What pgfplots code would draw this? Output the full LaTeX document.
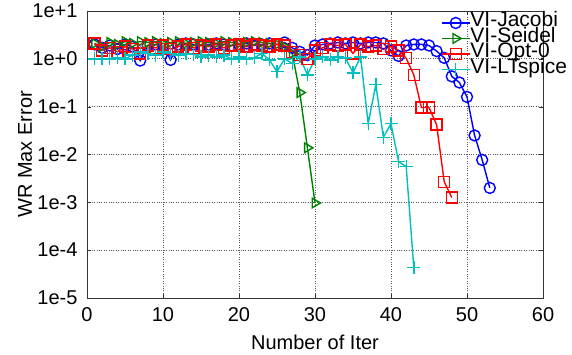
\documentclass[border=0pt]{standalone}
\usepackage{pgfplots}
\pgfplotsset{compat=1.18}
\usepackage{fontspec}
\setmainfont{Liberation Sans}
\definecolor{cjac}{RGB}{0,0,255}
\definecolor{csei}{RGB}{0,128,0}
\definecolor{copt}{RGB}{255,0,0}
\definecolor{clts}{RGB}{0,191,191}
\begin{document}
\begin{tikzpicture}
\begin{axis}[
  scale only axis,
  width=456pt, height=287pt,
  ymode=log,
  xmin=0, xmax=60, ymin=1e-5, ymax=10,
  xtick={0,10,...,60},
  ytick={1e-5,1e-4,1e-3,1e-2,1e-1,1,10},
  yticklabels={1e-5,1e-4,1e-3,1e-2,1e-1,1e+0,1e+1},
  minor ytick={},
  log basis y=10,
  /pgf/number format/assume math mode=true,
  tick label style={font=\fontsize{20}{22}\selectfont},
  label style={font=\fontsize{20}{22}\selectfont},
  xlabel={Number of Iter},
  ylabel={WR Max Error},
  xlabel style={at={(rel axis cs:0.5,0)}, anchor=center, yshift=-44pt},
  ylabel style={at={(rel axis cs:0,0.5)}, anchor=center, yshift=62pt},
  yticklabel style={xshift=-6pt},
  xticklabel style={yshift=-6pt},
  grid=major,
  major grid style={dotted, gray!70!black, line width=0.9pt},
  axis line style={gray!40!black, line width=0.8pt},
  tick align=inside,
  major tick length=4pt,
  tick style={gray!40!black},
  every axis plot/.append style={line width=1.4pt},
  clip=false,
  legend cell align=left,
  legend image code/.code={\draw[mark repeat=2,mark phase=2,#1] plot coordinates {(0pt,0pt) (14pt,0pt) (28pt,0pt)};},
  legend style={draw=none, fill=none, at={(rel axis cs:0.776,0.986)}, anchor=north west,
     font=\fontsize{21}{15}\selectfont, inner sep=0pt, row sep=0pt,
     nodes={inner sep=0pt, text height=11.5pt, text depth=4pt}},
]
\addplot[color=cjac, mark=o, mark size=5.5pt] coordinates {
(1,2.0)(2,1.7)(3,1.9)(4,1.6)(5,2.0)(6,1.8)(7,0.92)(8,1.9)(9,2.0)(10,1.9)
(11,0.95)(12,2.0)(13,2.1)(14,2.0)(15,1.9)(16,2.0)(17,2.1)(18,2.0)(19,1.9)(20,2.0)
(21,2.1)(22,1.9)(23,2.0)(24,2.1)(25,2.0)(26,2.2)(27,1.7)(28,1.4)(29,1.2)(30,1.9)
(31,2.0)(32,2.1)(33,2.2)(34,2.1)(35,2.2)(36,2.1)(37,2.2)(38,2.2)(39,2.1)(40,1.5)
(41,1.15)(42,1.9)(43,2.0)(44,2.0)(45,1.9)(46,1.45)(47,1.05)(48,0.43)(49,0.32)(50,0.16)
(51,0.025)(52,0.0077)(53,0.002)};
\addlegendentry{VI-Jacobi}
\addplot[color=csei, mark=triangle, mark size=5.5pt, mark options={rotate=-90}] coordinates {
(1,2.1)(2,1.8)(3,2.2)(4,2.0)(5,2.3)(6,2.1)(7,2.3)(8,2.2)(9,2.3)(10,2.1)
(11,2.2)(12,2.3)(13,2.1)(14,2.2)(15,2.3)(16,2.2)(17,2.1)(18,2.3)(19,2.2)(20,2.1)
(21,2.2)(22,2.3)(23,2.2)(24,2.1)(25,2.0)(26,1.8)(27,1.3)(28,0.197)(29,0.0138)(30,0.00097)};
\addlegendentry{VI-Seidel}
\addplot[color=copt, mark=square, mark size=5.5pt] coordinates {
(1,2.1)(2,1.5)(3,1.7)(4,1.4)(5,1.8)(6,1.6)(7,1.3)(8,1.9)(9,1.7)(10,1.9)
(11,1.6)(12,1.8)(13,2.0)(14,1.7)(15,1.9)(16,1.8)(17,2.0)(18,1.7)(19,1.9)(20,2.0)
(21,1.8)(22,2.0)(23,1.9)(24,1.8)(25,2.0)(26,1.9)(27,1.4)(28,1.2)(29,1.0)(30,1.5)
(31,1.7)(32,2.0)(33,1.9)(34,2.0)(35,1.3)(36,2.0)(37,1.8)(38,1.9)(39,1.6)(40,1.8)
(41,1.5)(42,1.03)(43,0.46)(44,0.096)(45,0.096)(46,0.042)(47,0.0027)(48,0.00126)};
\addlegendentry{VI-Opt-0}
\addplot[color=clts, mark=+, mark size=6.5pt] coordinates {
(1,1.0)(2,1.0)(3,1.0)(4,1.05)(5,1.0)(6,1.2)(7,1.4)(8,1.3)(9,1.2)(10,1.4)
(11,1.3)(12,1.2)(13,1.3)(14,1.25)(15,1.1)(16,1.2)(17,1.1)(18,1.2)(19,1.0)(20,1.1)
(21,1.0)(22,1.05)(23,1.3)(24,0.95)(25,0.54)(26,1.0)(27,0.8)(28,1.1)(29,0.46)(30,1.0)
(31,1.1)(32,0.95)(33,1.1)(34,1.05)(35,0.51)(36,1.1)(37,0.044)(38,0.29)(39,0.023)(40,0.044)
(41,0.0071)(42,0.0056)(43,4.3e-5)};
\addlegendentry{VI-LTspice}
\path (rel axis cs:0,0) ++(-87pt,-56pt);
\path (rel axis cs:1,1) ++(29pt,11pt);
\end{axis}
\end{tikzpicture}
\end{document}
